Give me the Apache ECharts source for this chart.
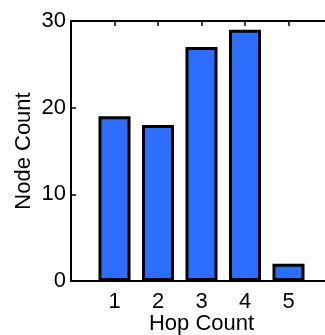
<!DOCTYPE html>
<html><head><meta charset="utf-8">
<script src="https://cdn.jsdelivr.net/npm/echarts@6/dist/echarts.min.js"></script>
<style>html,body{margin:0;padding:0;background:#fff;overflow:hidden}#c{width:345px;height:335px}</style>
</head><body><div id="c"></div>
<script>
var hopCounts = [1, 2, 3, 4, 5];
var nodeCounts = [19, 18, 27, 29, 2];
var yTicks = [0, 10, 20, 30];
var yMax = 30;
var font = 'Liberation Sans, Arial, Helvetica, sans-serif';
var chart = echarts.init(document.getElementById('c'));
function axisLine() { return {show: true, onZero: false, lineStyle: {color: '#000', width: 2}}; }
function tick() { return {show: true, inside: true, length: 5, lineStyle: {color: '#000', width: 1.5}}; }
var clear = 'rgba(0,0,0,0)';
chart.setOption({
  animation: false,
  grid: {left: 71, top: 21, right: 13, bottom: 54, outerBoundsMode: 'none'},
  xAxis: [{
    type: 'value', min: 0, max: 6, interval: 1, position: 'bottom',
    name: 'Hop Count', nameLocation: 'middle', nameGap: 32, nameMoveOverlap: false,
    nameTextStyle: {fontFamily: font, fontSize: 22, color: '#000'},
    axisLine: axisLine(), axisTick: tick(),
    axisLabel: {fontFamily: font, fontSize: 22, color: '#000', margin: 10,
      formatter: function (v) { return hopCounts.indexOf(v) >= 0 ? String(v) : ''; }},
    splitLine: {show: false}
  }, {
    type: 'value', min: 0, max: 6, interval: 1, position: 'top', show: true,
    axisLine: axisLine(), axisTick: tick(),
    axisLabel: {show: false}, splitLine: {show: false}
  }],
  yAxis: [{
    type: 'value', min: 0, max: yMax, interval: 10, position: 'left',
    name: 'Node Count', nameLocation: 'middle', nameGap: 36, nameRotate: 90, nameMoveOverlap: false,
    nameTextStyle: {fontFamily: font, fontSize: 22, color: '#000'},
    axisLine: axisLine(), axisTick: tick(),
    axisLabel: {fontFamily: font, fontSize: 22, color: '#000', margin: 5,
      formatter: function (v) { return yTicks.indexOf(v) >= 0 ? String(v) : ''; }},
    splitLine: {show: true, showMinLine: true, showMaxLine: true,
      lineStyle: {color: [clear, clear, clear, '#000'], width: 2, type: 'solid'}}
  }, {
    type: 'value', min: 0, max: yMax, interval: 10, position: 'right', show: true,
    axisLine: axisLine(), axisTick: tick(), axisLabel: {show: false}, splitLine: {show: false}
  }],
  series: [{
    type: 'bar', xAxisIndex: 0, yAxisIndex: 0,
    data: hopCounts.map(function (h, i) { return [h, nodeCounts[i]]; }),
    barWidth: 32,
    itemStyle: {color: '#2e6eff', borderColor: '#000', borderWidth: 3}
  }]
});
</script></body></html>
